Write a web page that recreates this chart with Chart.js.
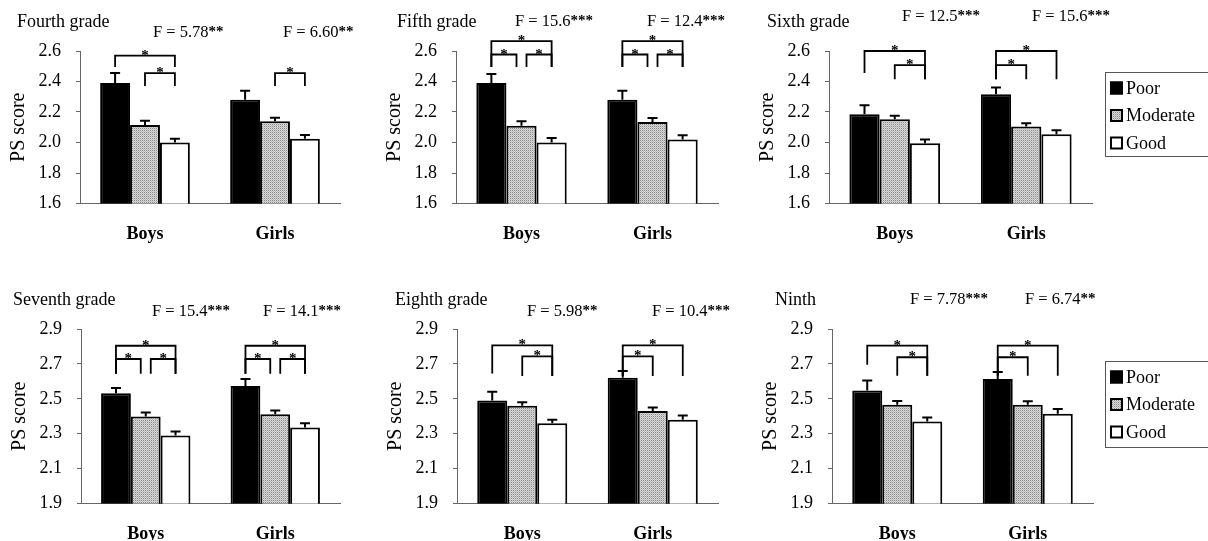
<!DOCTYPE html>
<html>
<head>
<meta charset="utf-8">
<script src="https://cdn.jsdelivr.net/npm/chart.js@4.4.0/dist/chart.umd.min.js"></script>
<style>
  body { margin: 0; background: #fff; }
  #wrap { position: relative; width: 1208px; height: 541px; overflow: hidden; background: #fff; }
  #wrap canvas { position: absolute; }
</style>
</head>
<body>
<div id="wrap"></div>
<script>
const groups = ['Boys', 'Girls'];
const levels = ['Poor', 'Moderate', 'Good'];
const ticksLow = [1.6, 2.6];
const ticksHigh = [1.9, 2.9];

// means [Boys, Girls] and upper error (SE)
const fourthPoor = [2.39, 2.28];
const fourthModerate = [2.115, 2.14];
const fourthGood = [2.00, 2.025];
const fourthErr = [[0.065, 0.06], [0.027, 0.022], [0.025, 0.025]];
const fourthF = ['F = 5.78**', 'F = 6.60**'];

const fifthPoor = [2.39, 2.28];
const fifthModerate = [2.11, 2.135];
const fifthGood = [2.00, 2.02];
const fifthErr = [[0.06, 0.06], [0.03, 0.025], [0.03, 0.027]];
const fifthF = ['F = 15.6***', 'F = 12.4***'];

const sixthPoor = [2.185, 2.317];
const sixthModerate = [2.153, 2.105];
const sixthGood = [1.995, 2.054];
const sixthErr = [[0.06, 0.043], [0.022, 0.021], [0.025, 0.026]];
const sixthF = ['F = 12.5***', 'F = 15.6***'];

const seventhPoor = [2.532, 2.574];
const seventhModerate = [2.398, 2.411];
const seventhGood = [2.289, 2.335];
const seventhErr = [[0.03, 0.04], [0.023, 0.022], [0.023, 0.025]];
const seventhF = ['F = 15.4***', 'F = 14.1***'];

const eighthPoor = [2.49, 2.62];
const eighthModerate = [2.46, 2.43];
const eighthGood = [2.36, 2.38];
const eighthErr = [[0.05, 0.04], [0.02, 0.02], [0.02, 0.025]];
const eighthF = ['F = 5.98**', 'F = 10.4***'];

const ninthPoor = [2.548, 2.613];
const ninthModerate = [2.466, 2.466];
const ninthGood = [2.37, 2.414];
const ninthErr = [[0.057, 0.04], [0.022, 0.02], [0.023, 0.027]];
const ninthF = ['F = 7.78***', 'F = 6.74**'];

// significance brackets: [group, fromLevel, toLevel, top, leftLegEnd, rightLegEnd]
const fourthBrackets = [[0, 0, 2, 2.57, 2.495, 2.495], [0, 1, 2, 2.455, 2.37, 2.37], [1, 1, 2, 2.455, 2.37, 2.37]];
const fifthBrackets = [[0, 0, 2, 2.665, 2.495, 2.495], [0, 0, 1, 2.577, 2.495, 2.495], [0, 1, 2, 2.577, 2.495, 2.495],
  [1, 0, 2, 2.665, 2.495, 2.495], [1, 0, 1, 2.577, 2.495, 2.495], [1, 1, 2, 2.577, 2.495, 2.495]];
const sixthBrackets = [[0, 0, 2, 2.6, 2.455, 2.415], [0, 1, 2, 2.507, 2.415, 2.415], [1, 0, 2, 2.6, 2.415, 2.415], [1, 0, 1, 2.507, 2.415, 2.415]];
const seventhBrackets = [[0, 0, 2, 2.804, 2.643, 2.643], [0, 0, 1, 2.728, 2.643, 2.643], [0, 1, 2, 2.728, 2.643, 2.643],
  [1, 0, 2, 2.804, 2.643, 2.643], [1, 0, 1, 2.728, 2.643, 2.643], [1, 1, 2, 2.728, 2.643, 2.643]];
const eighthBrackets = [[0, 0, 2, 2.806, 2.645, 2.63], [0, 1, 2, 2.743, 2.63, 2.63], [1, 0, 2, 2.806, 2.63, 2.63], [1, 0, 1, 2.743, 2.63, 2.63]];
const ninthBrackets = [[0, 0, 2, 2.805, 2.695, 2.632], [0, 1, 2, 2.738, 2.632, 2.632], [1, 0, 2, 2.805, 2.632, 2.632], [1, 0, 1, 2.738, 2.632, 2.632]];

const SERIF = "'Liberation Serif', 'Times New Roman', serif";
Chart.defaults.font.family = SERIF;
Chart.defaults.color = '#000';

function grayPattern() {
  const c = document.createElement('canvas');
  c.width = 2; c.height = 2;
  const g = c.getContext('2d');
  g.fillStyle = '#dadada'; g.fillRect(0, 0, 2, 2);
  g.fillStyle = '#888'; g.fillRect(0, 0, 1, 1);
  g.fillStyle = '#bbb'; g.fillRect(1, 1, 1, 1);
  return g.createPattern(c, 'repeat');
}
const fills = ['#000', grayPattern(), '#fff'];

const panels = [
  { title: 'Fourth grade', series: [fourthPoor, fourthModerate, fourthGood], err: fourthErr, f: fourthF, brackets: fourthBrackets, range: ticksLow,
    row: 0, axisX: 80, right: 340, top: 51, bottom: 203.5, titleX: 17, titleY: 22, fX: [153, 283], fY: 33 },
  { title: 'Fifth grade', series: [fifthPoor, fifthModerate, fifthGood], err: fifthErr, f: fifthF, brackets: fifthBrackets, range: ticksLow,
    row: 0, axisX: 456, right: 718, top: 51, bottom: 203.5, titleX: 397, titleY: 22, fX: [515, 647], fY: 22 },
  { title: 'Sixth grade', series: [sixthPoor, sixthModerate, sixthGood], err: sixthErr, f: sixthF, brackets: sixthBrackets, range: ticksLow,
    row: 0, axisX: 829, right: 1092, top: 51, bottom: 203.5, titleX: 767, titleY: 22, fX: [902, 1032], fY: 17, legendTop: 72, legendH: 84 },
  { title: 'Seventh grade', series: [seventhPoor, seventhModerate, seventhGood], err: seventhErr, f: seventhF, brackets: seventhBrackets, range: ticksHigh,
    row: 1, axisX: 81, right: 340, top: 329, bottom: 503.5, titleX: 13, titleY: 300, fX: [152, 263], fY: 312 },
  { title: 'Eighth grade', series: [eighthPoor, eighthModerate, eighthGood], err: eighthErr, f: eighthF, brackets: eighthBrackets, range: ticksHigh,
    row: 1, axisX: 457, right: 718, top: 329, bottom: 503.5, titleX: 395, titleY: 300, fX: [527, 652], fY: 312 },
  { title: 'Ninth', series: [ninthPoor, ninthModerate, ninthGood], err: ninthErr, f: ninthF, brackets: ninthBrackets, range: ticksHigh,
    row: 1, axisX: 832, right: 1093, top: 329, bottom: 503.5, titleX: 775, titleY: 300, fX: [910, 1025], fY: 300, legendTop: 361, legendH: 86 }
];

function extras(p, ox, oy) {
  return {
    id: 'extras',
    afterDatasetsDraw(chart) {
      const ctx = chart.ctx;
      const y = chart.scales.y;
      ctx.save();
      ctx.strokeStyle = '#000';
      ctx.lineWidth = 2;
      p.err.forEach((se, i) => {
        chart.getDatasetMeta(i).data.forEach((bar, j) => {
          const top = y.getPixelForValue(chart.data.datasets[i].data[j] + se[j]);
          ctx.beginPath();
          ctx.moveTo(bar.x, bar.y);
          ctx.lineTo(bar.x, top);
          ctx.moveTo(bar.x - 5, top);
          ctx.lineTo(bar.x + 5, top);
          ctx.stroke();
        });
      });

      const has = (g, a, b) => p.brackets.some(k => k[0] === g && k[1] === a && k[2] === b);
      p.brackets.forEach(b => {
        const [g, from, to, topV, lowL, lowR] = b;
        let x1 = chart.getDatasetMeta(from).data[g].x;
        let x2 = chart.getDatasetMeta(to).data[g].x;
        const split = has(g, 0, 1) && has(g, 1, 2);
        if (split && to === 1) x2 -= 5;
        if (split && from === 1) x1 += 5;
        const yt = y.getPixelForValue(topV);
        ctx.lineWidth = 1.8;
        ctx.beginPath();
        ctx.moveTo(x1, y.getPixelForValue(lowL));
        ctx.lineTo(x1, yt);
        ctx.lineTo(x2, yt);
        ctx.lineTo(x2, y.getPixelForValue(lowR));
        ctx.stroke();
        ctx.fillStyle = '#000';
        ctx.font = 'bold 15px ' + SERIF;
        ctx.textAlign = 'center';
        ctx.textBaseline = 'alphabetic';
        ctx.fillText('*', (x1 + x2) / 2, yt + 4);
      });
      ctx.restore();
    },
    afterDraw(chart) {
      const ctx = chart.ctx;
      ctx.save();
      ctx.fillStyle = '#000';
      ctx.textBaseline = 'middle';
      ctx.textAlign = 'left';
      ctx.font = '18px ' + SERIF;
      ctx.fillText(p.title, p.titleX - ox, p.titleY - oy);

      p.f.forEach((s, k) => {
        const cut = s.indexOf('*');
        const main = s.slice(0, cut);
        ctx.font = '16.5px ' + SERIF;
        ctx.fillText(main, p.fX[k] - ox, p.fY - oy);
        const w = ctx.measureText(main).width;
        ctx.font = 'bold 15px ' + SERIF;
        ctx.fillText(s.slice(cut), p.fX[k] - ox + w, p.fY - oy - 1);
      });

      if (p.legendTop) {
        const lx = 1105 - ox, ly = p.legendTop - oy;
        ctx.strokeStyle = '#555';
        ctx.lineWidth = 1;
        ctx.strokeRect(lx + 0.5, ly + 0.5, 200, p.legendH);
        chart.data.datasets.forEach((ds, i) => {
          const cy = ly + 16 + i * 27.5;
          ctx.fillStyle = ds.backgroundColor;
          ctx.fillRect(lx + 5, cy - 6.5, 13, 13);
          ctx.strokeStyle = '#000';
          ctx.lineWidth = 2;
          ctx.strokeRect(lx + 6, cy - 5.5, 11, 11);
          ctx.fillStyle = '#000';
          ctx.font = '18px ' + SERIF;
          ctx.fillText(ds.label, lx + 21, cy + 1);
        });
      }
      ctx.restore();
    }
  };
}

const wrap = document.getElementById('wrap');
panels.forEach(p => {
  const ox = p.axisX - 80;
  const oy = p.row === 0 ? 0 : 270;
  const h = p.row === 0 ? 270 : 271;
  const w = (p.legendTop ? 1208 : p.right + 60) - ox;
  const xh = h - (p.bottom - oy) - 1;
  const canvas = document.createElement('canvas');
  canvas.width = w;
  canvas.height = h;
  canvas.style.left = ox + 'px';
  canvas.style.top = oy + 'px';
  wrap.appendChild(canvas);

  new Chart(canvas.getContext('2d'), {
    type: 'bar',
    data: {
      labels: groups,
      datasets: levels.map((name, i) => ({
        label: name,
        data: p.series[i],
        backgroundColor: fills[i],
        borderColor: '#000',
        borderWidth: 2,
        categoryPercentage: 0.69,
        barPercentage: 1
      }))
    },
    options: {
      responsive: false,
      animation: false,
      layout: {
        padding: {
          left: 0,
          right: w - (p.right - ox),
          top: p.top - oy,
          bottom: 1
        }
      },
      plugins: { legend: { display: false }, tooltip: { enabled: false } },
      scales: {
        x: {
          grid: { display: false },
          border: { display: true, color: '#666', width: 1 },
          ticks: { font: { size: 18, weight: 'bold' }, padding: 12, color: '#000' },
          afterFit: s => { s.height = xh; }
        },
        y: {
          min: p.range[0],
          max: p.range[1],
          grid: { display: true, drawOnChartArea: false, drawTicks: true, tickLength: 4, color: '#666' },
          border: { display: true, color: '#666', width: 1 },
          ticks: { stepSize: 0.2, padding: 15, font: { size: 18 }, color: '#000', callback: v => v.toFixed(1) },
          title: { display: true, text: 'PS score', font: { size: 20 }, padding: { top: 7, bottom: 0 }, color: '#000' },
          afterFit: s => { s.width = 80; }
        }
      }
    },
    plugins: [extras(p, ox, oy)]
  });
});
</script>
</body>
</html>
